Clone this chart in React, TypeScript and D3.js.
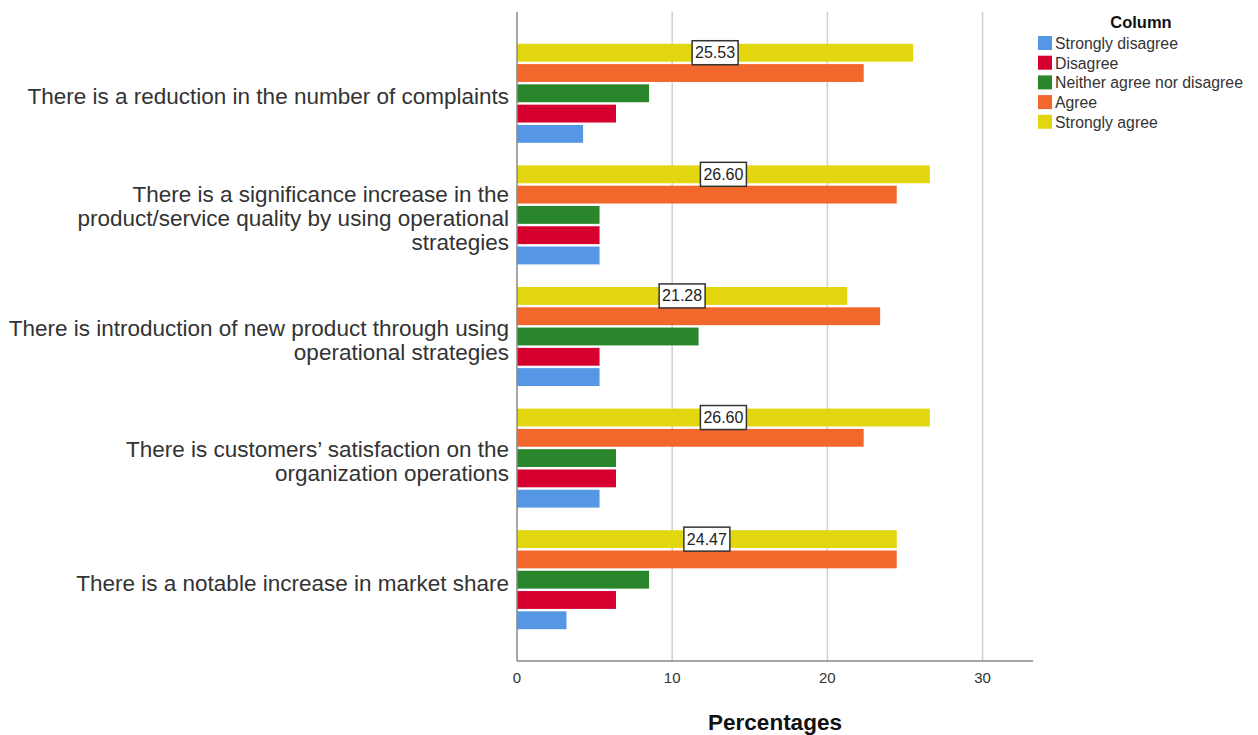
import React from "react";
import * as d3 from "d3";

const categories: string[][] = [
  ["There is a reduction in the number of complaints"],
  ["There is a significance increase in the", "product/service quality by using operational", "strategies"],
  ["There is introduction of new product through using", "operational strategies"],
  ["There is customers’ satisfaction on the", "organization operations"],
  ["There is a notable increase in market share"],
];
const seriesNames = ["Strongly agree", "Agree", "Neither agree nor disagree", "Disagree", "Strongly disagree"];
const legendOrder = ["Strongly disagree", "Disagree", "Neither agree nor disagree", "Agree", "Strongly agree"];
const colors: Record<string, string> = {
  "Strongly disagree": "#5597e5",
  "Disagree": "#d6002f",
  "Neither agree nor disagree": "#2a862a",
  "Agree": "#f2682c",
  "Strongly agree": "#e2d60e",
};
const stronglyAgree = [25.53, 26.6, 21.28, 26.6, 24.47];
const agree = [22.34, 24.47, 23.4, 22.34, 24.47];
const neither = [8.51, 5.32, 11.7, 6.38, 8.51];
const disagree = [6.38, 5.32, 5.32, 6.38, 6.38];
const stronglyDisagree = [4.26, 5.32, 5.32, 5.32, 3.19];
const xTicks = [0, 10, 20, 30];

const seriesValues = [stronglyAgree, agree, neither, disagree, stronglyDisagree];

export default function App() {
  const W = 1258, H = 735;
  const x0 = 517, x1 = 1033;
  const x = d3.scaleLinear().domain([0, 33.25]).range([x0, x1]);
  const yTop = 12, yBot = 661;
  const yBand = d3.scaleBand<number>().domain(d3.range(categories.length)).range([32.5, 640.5]).paddingInner(0).paddingOuter(0);
  const step = yBand.bandwidth();
  const inner = d3.scaleBand<number>().domain(d3.range(5)).range([-49.5, 49.5]).paddingInner(0.12);
  const font = "Arial, 'Liberation Sans', sans-serif";

  return (
    <svg width={W} height={H} style={{ position: "absolute", left: 0, top: 0, background: "#fff" }} fontFamily={font}>
      {xTicks.filter(t => t > 0).map(t => (
        <line key={t} x1={x(t)} x2={x(t)} y1={yTop} y2={yBot} stroke="#cfcfcf" strokeWidth={1.5} />
      ))}
      {categories.map((_, ci) => {
        const cy = (yBand(ci) as number) + step / 2;
        return (
          <g key={ci}>
            {seriesNames.map((s, si) => (
              <rect key={s} x={x(0)} y={cy + (inner(si) as number)} width={x(seriesValues[si][ci]) - x(0)} height={inner.bandwidth()} fill={colors[s]} />
            ))}
          </g>
        );
      })}
      {categories.map((_, ci) => {
        const cy = (yBand(ci) as number) + step / 2 + (inner(0) as number) + inner.bandwidth() / 2;
        const cx = x(stronglyAgree[ci] / 2);
        return (
          <g key={ci}>
            <rect x={cx - 23} y={cy - 12} width={46} height={24} fill="#fff" stroke="#333" strokeWidth={1.5} />
            <text x={cx} y={cy + 5.5} textAnchor="middle" fontSize={16} fill="#222">{stronglyAgree[ci].toFixed(2)}</text>
          </g>
        );
      })}
      <line x1={x0} x2={x0} y1={yTop} y2={yBot} stroke="#888" strokeWidth={1.5} />
      <line x1={x0} x2={x1} y1={yBot} y2={yBot} stroke="#888" strokeWidth={1.5} />
      {xTicks.map(t => (
        <text key={t} x={x(t)} y={683} textAnchor="middle" fontSize={15} fill="#333">{t}</text>
      ))}
      <text x={775} y={730} textAnchor="middle" fontSize={22.5} fontWeight="bold" fill="#111">Percentages</text>
      {categories.map((lines, ci) => {
        const cy = (yBand(ci) as number) + step / 2;
        const lh = 24;
        const start = cy - ((lines.length - 1) * lh) / 2;
        return (
          <text key={ci} textAnchor="end" fontSize={22.5} fill="#333">
            {lines.map((l, li) => (
              <tspan key={li} x={509} y={start + li * lh + 11}>{l}</tspan>
            ))}
          </text>
        );
      })}
      <text x={1141} y={28} textAnchor="middle" fontSize={16.5} fontWeight="bold" fill="#111">Column</text>
      {legendOrder.map((s, i) => (
        <g key={s} transform={`translate(1038, ${36 + i * 19.7})`}>
          <rect x={0} y={0} width={14} height={14} fill={colors[s]} />
          <text x={17} y={13} fontSize={15.8} fill="#333">{s}</text>
        </g>
      ))}
    </svg>
  );
}
